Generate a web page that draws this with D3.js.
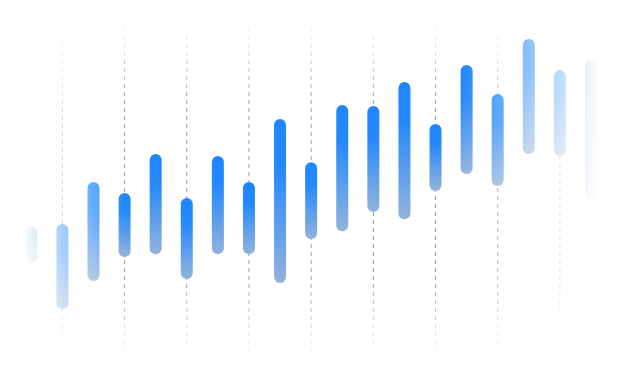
<!DOCTYPE html>
<html>
<head>
<meta charset="utf-8">
<script src="https://cdn.jsdelivr.net/npm/d3@7"></script>
<style>
  html, body { margin: 0; padding: 0; background: #fff; }
  svg { display: block; }
</style>
</head>
<body>
<svg id="svg_range" width="624" height="389"></svg>
<script>
const categories = d3.range(1, 20).map((d) => `P${d}`);
const highValues = [38.6, 39.5, 52.5, 49.1, 61.1, 47.5, 60.5, 52.5, 71.9, 58.6, 76.2, 75.9, 83.3, 70.4, 88.6, 79.6, 96.6, 87.0, 90.1];
const lowValues = [27.5, 13.3, 21.9, 29.3, 30.2, 22.5, 30.2, 30.2, 21.3, 34.9, 37.3, 43.2, 41.0, 49.7, 54.9, 51.2, 61.1, 60.5, 47.2];

const width = 624;
const height = 389;
const barWidth = 12;

const data = categories.map((c, i) => ({ cat: c, high: highValues[i], low: lowValues[i] }));

const xScale = d3.scalePoint()
  .domain(categories)
  .range([31.3, 591]);

const yScale = d3.scaleLinear()
  .domain([0, 100])
  .range([352, 28]);

const svg = d3.select('#svg_range');
const defs = svg.append('defs');

// bar fill: bright blue on top, greyish blue at the bottom
const barGrad = defs.append('linearGradient')
  .attr('id', 'barGrad')
  .attr('x1', 0).attr('y1', 0)
  .attr('x2', 0).attr('y2', 1);
barGrad.append('stop').attr('offset', 0).attr('stop-color', '#1e87ff');
barGrad.append('stop').attr('offset', 0.3).attr('stop-color', '#2589fc');
barGrad.append('stop').attr('offset', 1).attr('stop-color', '#93b3dc');

// grid lines fade at both ends
const [gBottom, gTop] = yScale.range();
const gridGrad = defs.append('linearGradient')
  .attr('id', 'gridGrad')
  .attr('gradientUnits', 'userSpaceOnUse')
  .attr('x1', 0).attr('y1', gTop)
  .attr('x2', 0).attr('y2', gBottom);
gridGrad.append('stop').attr('offset', 0).attr('stop-color', '#999').attr('stop-opacity', 0.1);
gridGrad.append('stop').attr('offset', 0.25).attr('stop-color', '#999').attr('stop-opacity', 1);
gridGrad.append('stop').attr('offset', 0.75).attr('stop-color', '#999').attr('stop-opacity', 1);
gridGrad.append('stop').attr('offset', 1).attr('stop-color', '#999').attr('stop-opacity', 0.1);

// whole chart fades out to the left and right edges
const fadeGrad = defs.append('linearGradient')
  .attr('id', 'fadeGrad')
  .attr('gradientUnits', 'userSpaceOnUse')
  .attr('x1', 0).attr('y1', 0)
  .attr('x2', width).attr('y2', 0);
[[0, 0], [20, 0], [125, 1], [462, 1], [600, 0], [624, 0]].forEach(([x, o]) => {
  fadeGrad.append('stop')
    .attr('offset', x / width)
    .attr('stop-color', '#fff')
    .attr('stop-opacity', o);
});

defs.append('mask')
  .attr('id', 'fadeMask')
  .attr('maskUnits', 'userSpaceOnUse')
  .attr('x', 0).attr('y', 0)
  .attr('width', width).attr('height', height)
  .append('rect')
  .attr('width', width)
  .attr('height', height)
  .attr('fill', 'url(#fadeGrad)');

const chart = svg.append('g').attr('mask', 'url(#fadeMask)');

chart.append('g')
  .selectAll('line')
  .data(categories.filter((d, i) => i % 2 === 1))
  .enter()
  .append('line')
  .attr('x1', (d) => xScale(d))
  .attr('x2', (d) => xScale(d) + 0.01)
  .attr('y1', gTop)
  .attr('y2', gBottom)
  .attr('stroke', 'url(#gridGrad)')
  .attr('stroke-width', 1)
  .attr('stroke-dasharray', '4,4');

chart.append('g')
  .selectAll('rect')
  .data(data)
  .enter()
  .append('rect')
  .attr('x', (d) => xScale(d.cat) - barWidth / 2)
  .attr('y', (d) => yScale(d.high))
  .attr('width', barWidth)
  .attr('height', (d) => yScale(d.low) - yScale(d.high))
  .attr('rx', barWidth / 2)
  .attr('fill', 'url(#barGrad)');
</script>
</body>
</html>
